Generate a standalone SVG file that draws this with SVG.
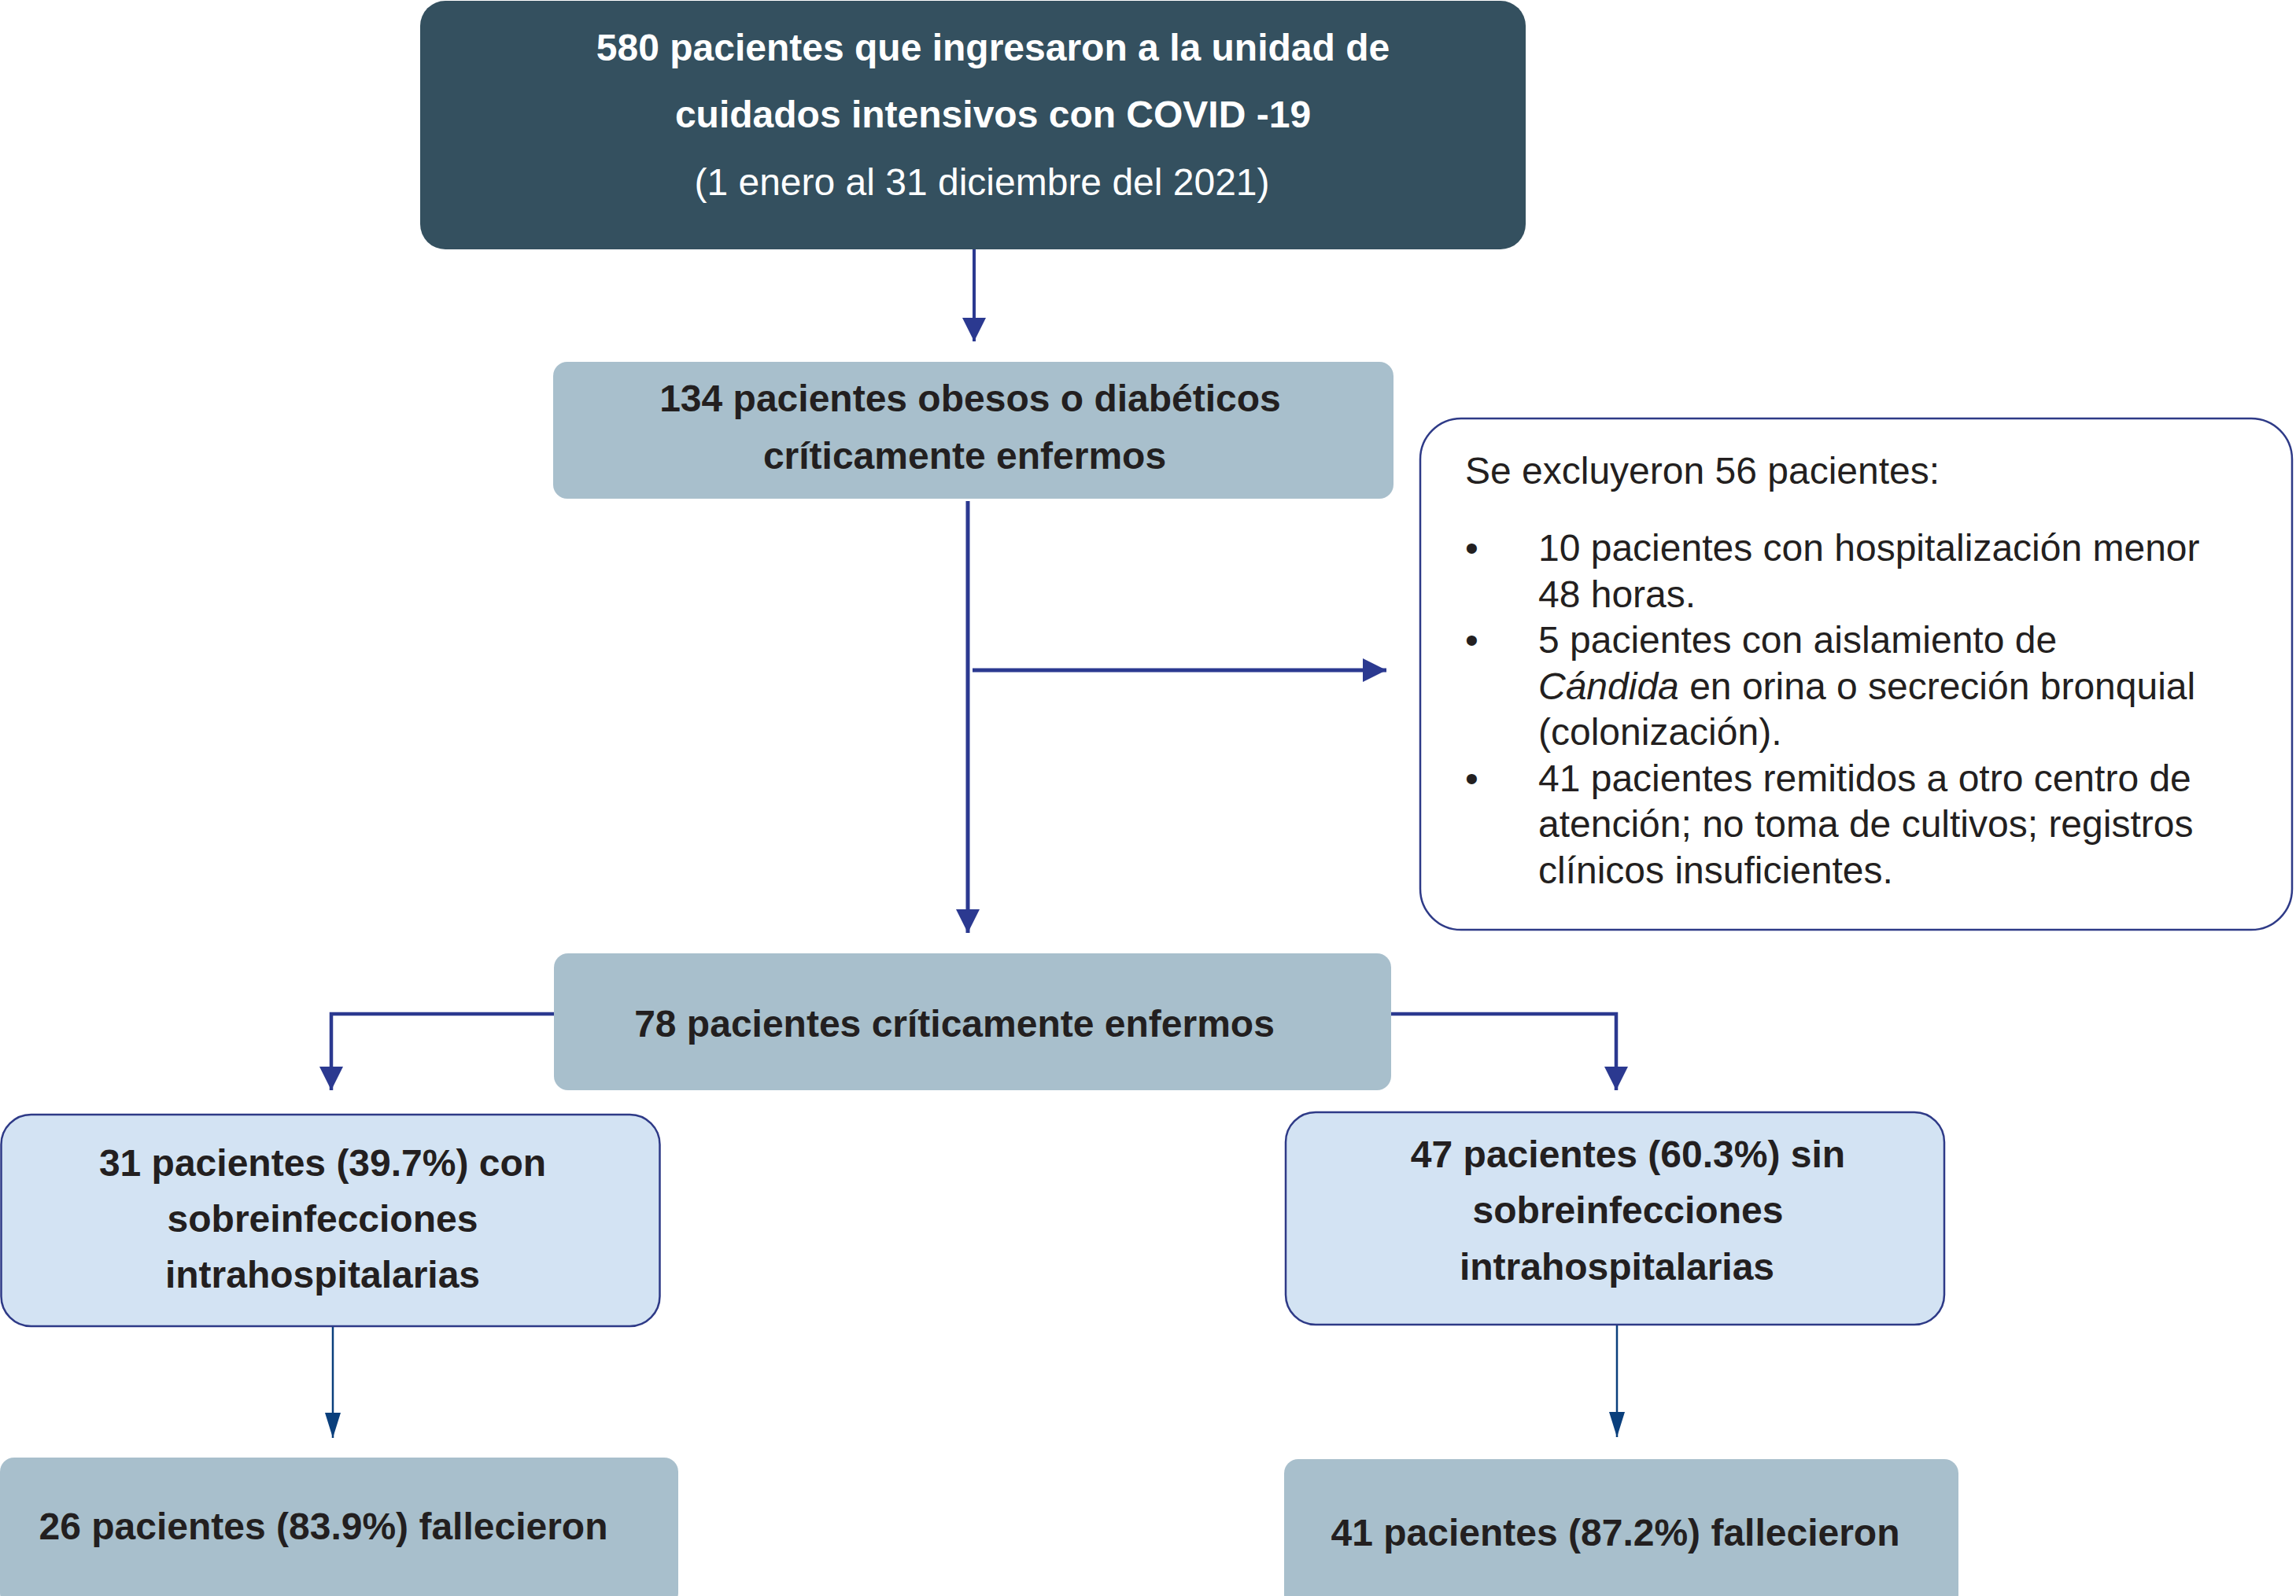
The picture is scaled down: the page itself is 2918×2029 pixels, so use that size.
<svg xmlns="http://www.w3.org/2000/svg" width="2918" height="2029" viewBox="0 0 2918 2029">
<style>
.b{font-family:"Liberation Sans",Arial,Helvetica,sans-serif;font-weight:bold;font-size:48px;fill:#231F20}
.r{font-family:"Liberation Sans",Arial,Helvetica,sans-serif;font-size:48px;fill:#231F20}
.b.w,.r.w{fill:#FFFFFF}
.dark{fill:#34505F}
.grey{fill:#A8BFCC}
.light{fill:#D3E3F3;stroke:#2E3A87;stroke-width:2.5}
.excl{fill:#FFFFFF;stroke:#2E3A87;stroke-width:2.5}
.c{fill:none;stroke:#2B3990}
.c2{fill:none;stroke:#0A3F7C;stroke-width:2.5}
</style>
<defs>
<marker id="ah" viewBox="0 0 30 30" markerWidth="30" markerHeight="30" refX="30" refY="15" orient="auto" markerUnits="userSpaceOnUse">
<path d="M0,0 L30,15 L0,30 Z" fill="#2B3990"/>
</marker>
<marker id="ah2" viewBox="0 0 32 20" markerWidth="32" markerHeight="20" refX="32" refY="10" orient="auto" markerUnits="userSpaceOnUse">
<path d="M0,0 L32,10 L0,20 Z" fill="#0A3F7C"/>
</marker>
</defs>
<rect width="2918" height="2029" fill="#FFFFFF"/>

<g id="connectors">
<line class="c" x1="1238" y1="316" x2="1238" y2="434" stroke-width="4" marker-end="url(#ah)"/>
<line class="c" x1="1230" y1="637" x2="1230" y2="1186" stroke-width="5" marker-end="url(#ah)"/>
<line class="c" x1="1236" y1="852" x2="1762" y2="852" stroke-width="5" marker-end="url(#ah)"/>
<polyline class="c" points="704,1289 421,1289 421,1386" stroke-width="4.5" marker-end="url(#ah)"/>
<polyline class="c" points="1768,1289 2054,1289 2054,1386" stroke-width="4.5" marker-end="url(#ah)"/>
<line class="c2" x1="423" y1="1686" x2="423" y2="1828" marker-end="url(#ah2)"/>
<line class="c2" x1="2055" y1="1684" x2="2055" y2="1827" marker-end="url(#ah2)"/>
</g>

<g id="n580">
<rect class="dark" x="534" y="1" width="1405" height="316" rx="32"/>
<text class="b w" x="1262" y="77" text-anchor="middle">580 pacientes que ingresaron a la unidad de</text>
<text class="b w" x="1262" y="162" text-anchor="middle">cuidados intensivos con COVID -19</text>
<text class="r w" x="1248" y="248" text-anchor="middle">(1 enero al 31 diciembre del 2021)</text>
</g>

<g id="n134">
<rect class="grey" x="703" y="460" width="1068" height="174" rx="18"/>
<text class="b" x="1233" y="523" text-anchor="middle">134 pacientes obesos o diabéticos</text>
<text class="b" x="1226" y="596" text-anchor="middle">críticamente enfermos</text>
</g>

<g id="nexcl">
<rect class="excl" x="1805" y="532" width="1108" height="650" rx="52"/>
<text class="r" x="1862" y="615">Se excluyeron 56 pacientes:</text>
<text class="r" x="1862" y="713">•</text>
<text class="r" x="1955" y="713">10 pacientes con hospitalización menor</text>
<text class="r" x="1955" y="772">48 horas.</text>
<text class="r" x="1862" y="830">•</text>
<text class="r" x="1955" y="830">5 pacientes con aislamiento de</text>
<text class="r" x="1955" y="889"><tspan font-style="italic">Cándida</tspan> en orina o secreción bronquial</text>
<text class="r" x="1955" y="947">(colonización).</text>
<text class="r" x="1862" y="1006">•</text>
<text class="r" x="1955" y="1006">41 pacientes remitidos a otro centro de</text>
<text class="r" x="1955" y="1064">atención; no toma de cultivos; registros</text>
<text class="r" x="1955" y="1123">clínicos insuficientes.</text>
</g>

<g id="n78">
<rect class="grey" x="704" y="1212" width="1064" height="174" rx="18"/>
<text class="b" x="1213" y="1318" text-anchor="middle">78 pacientes críticamente enfermos</text>
</g>

<g id="n31">
<rect class="light" x="1.5" y="1417" width="837" height="269" rx="38"/>
<text class="b" x="410" y="1495" text-anchor="middle">31 pacientes (39.7%) con</text>
<text class="b" x="410" y="1566" text-anchor="middle">sobreinfecciones</text>
<text class="b" x="410" y="1637" text-anchor="middle">intrahospitalarias</text>
</g>

<g id="n47">
<rect class="light" x="1634" y="1414" width="837" height="270" rx="38"/>
<text class="b" x="2069" y="1484" text-anchor="middle">47 pacientes (60.3%) sin</text>
<text class="b" x="2069" y="1555" text-anchor="middle">sobreinfecciones</text>
<text class="b" x="2055" y="1627" text-anchor="middle">intrahospitalarias</text>
</g>

<g id="n26">
<rect class="grey" x="0" y="1853" width="862" height="190" rx="18"/>
<text class="b" x="411" y="1957" text-anchor="middle">26 pacientes (83.9%) fallecieron</text>
</g>

<g id="n41">
<rect class="grey" x="1632" y="1855" width="857" height="190" rx="18"/>
<text class="b" x="2053" y="1965" text-anchor="middle">41 pacientes (87.2%) fallecieron</text>
</g>
</svg>
